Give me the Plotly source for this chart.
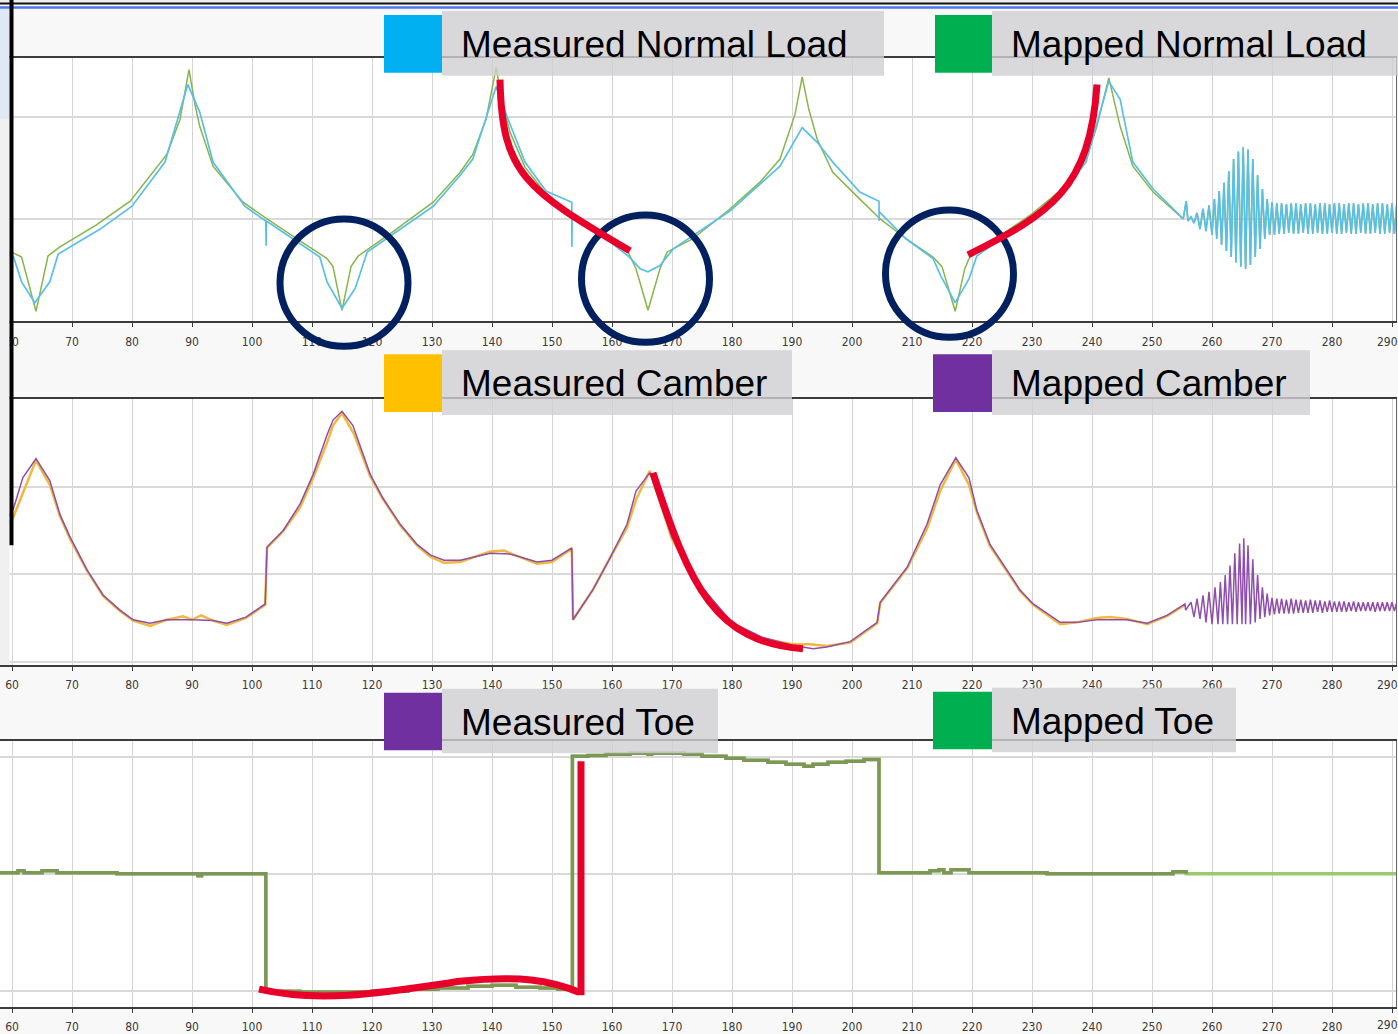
import plotly.graph_objects as go

# ---------------- data ----------------
tick_vals = [60, 70, 80, 90, 100, 110, 120, 130, 140, 150, 160, 170, 180, 190, 200,
             210, 220, 230, 240, 250, 260, 270, 280, 290]
tick_text = [str(v) for v in tick_vals]

# Normal load (kN)
nl_map_x = [58.0, 60.2, 61.6, 64.0, 66.0, 68.0, 74.0, 79.7, 85.8, 88.0,
            89.5, 90.5, 91.3, 93.5, 98.5, 102.5, 108.0, 112.5, 113.5, 115.0,
            116.5, 117.7, 123.5, 130.2, 134.7, 136.8, 139.0, 140.7, 141.8, 143.0,
            145.5, 149.0, 154.0, 159.0, 162.7, 164.0, 166.0, 168.0, 169.2, 173.5,
            179.7, 184.7, 188.0, 190.5, 191.7, 192.8, 194.2, 196.8, 201.3, 204.7,
            209.0, 213.5, 215.0, 217.2, 218.8, 219.7, 224.0, 230.0, 235.0, 239.0,
            240.8, 242.8, 244.7, 246.8, 250.2, 255.2]
nl_map_y = [3.35, 3.33, 3.25, 2.18, 3.27, 3.45, 3.88, 4.35, 5.27, 5.96,
            6.94, 6.25, 5.82, 5.04, 4.33, 4.00, 3.57, 3.22, 3.06, 2.20,
            3.06, 3.27, 3.75, 4.33, 4.92, 5.27, 5.96, 6.98, 6.25, 5.71,
            5.02, 4.49, 4.00, 3.61, 3.35, 3.02, 2.20, 3.02, 3.35, 3.61,
            4.20, 4.73, 5.18, 6.06, 6.80, 6.16, 5.57, 4.92, 4.39, 4.00,
            3.61, 3.25, 3.06, 2.18, 3.02, 3.27, 3.61, 4.10, 4.59, 5.18,
            5.82, 6.78, 5.82, 5.04, 4.53, 4.00]

nl_meas_x = [58.0, 60.2, 61.6, 63.8, 66.3, 67.7, 74.7, 80.0, 85.5, 89.3,
             91.3, 93.5, 98.8, 102.3, 102.35, 102.4, 111.3, 112.5, 115.0, 117.2,
             119.2, 130.2, 134.7, 136.8, 140.7, 142.5, 145.5, 149.0, 153.3, 153.32,
             153.35, 159.0, 162.7, 164.7, 166.0, 168.0, 170.2, 179.7, 184.7, 188.0,
             191.7, 194.2, 196.8, 201.3, 204.5, 204.52, 204.55, 209.0, 213.5, 214.8,
             217.2, 219.5, 220.8, 230.0, 235.0, 239.0, 242.8, 244.7, 246.8, 250.2,
             255.2]
nl_meas_y = [3.31, 3.27, 2.76, 2.35, 2.76, 3.31, 3.80, 4.25, 5.12, 6.65,
             6.10, 5.12, 4.25, 3.96, 3.47, 3.96, 3.25, 2.76, 2.24, 2.63,
             3.35, 4.25, 4.86, 5.18, 6.61, 6.02, 5.12, 4.55, 4.33, 3.45,
             4.10, 3.61, 3.27, 3.02, 2.96, 3.08, 3.41, 4.16, 4.69, 5.04,
             5.80, 5.51, 5.12, 4.53, 4.35, 3.96, 4.14, 3.61, 3.22, 2.88,
             2.35, 2.82, 3.27, 4.04, 4.53, 5.12, 6.71, 6.35, 5.12, 4.59,
             4.00]

nl_osc_x = [255.7, 256.0, 256.5, 257.0, 257.5, 258.0, 258.5, 259.0, 259.5, 260.0,
            260.4, 260.8, 261.2, 261.6, 262.0, 262.4, 262.8, 263.2, 263.6, 264.0,
            264.4, 264.8, 265.2, 265.6, 266.0, 266.4, 266.8, 267.2, 267.6, 268.0,
            268.4, 268.8, 269.2, 269.6]
nl_osc_y = [4.35, 3.96, 4.04, 3.92, 4.12, 3.80, 4.20, 3.76, 4.27, 3.69,
            4.39, 3.61, 4.55, 3.49, 4.71, 3.37, 4.94, 3.25, 5.18, 3.14,
            5.33, 3.06, 5.41, 3.02, 5.37, 3.10, 5.18, 3.25, 4.86, 3.41,
            4.59, 3.61, 4.39, 3.69]

band_x = [270.0, 270.4, 270.8, 271.2, 271.6, 272.0, 272.4, 272.8, 273.2, 273.6,
          274.0, 274.4, 274.8, 275.2, 275.6, 276.0, 276.4, 276.8, 277.2, 277.6,
          278.0, 278.4, 278.8, 279.2, 279.6, 280.0, 280.4, 280.8, 281.2, 281.6,
          282.0, 282.4, 282.8, 283.2, 283.6, 284.0, 284.4, 284.8, 285.2, 285.6,
          286.0, 286.4, 286.8, 287.2, 287.6, 288.0, 288.4, 288.8, 289.2, 289.6,
          290.0, 290.4, 290.8]
nl_band_y = [4.33, 3.69, 4.31, 3.71, 4.31, 3.71, 4.29, 3.73, 4.31, 3.71,
             4.31, 3.71, 4.29, 3.73, 4.31, 3.71, 4.31, 3.71, 4.29, 3.73,
             4.31, 3.71, 4.31, 3.71, 4.29, 3.73, 4.31, 3.71, 4.31, 3.71,
             4.29, 3.73, 4.31, 3.71, 4.31, 3.71, 4.29, 3.73, 4.31, 3.71,
             4.31, 3.71, 4.29, 3.73, 4.31, 3.71, 4.31, 3.71, 4.29, 3.73,
             4.31, 3.71, 4.31]

# Camber (deg)
cam_map_x = [58.0, 60.2, 61.8, 64.0, 66.3, 68.0, 69.7, 72.5, 75.2, 78.0,
             80.2, 83.0, 85.8, 90.0, 93.5, 95.8, 99.0, 102.2, 102.5, 105.2,
             108.0, 110.2, 112.5, 113.5, 115.0, 116.8, 119.7, 121.8, 124.7, 127.5,
             129.7, 132.0, 134.7, 139.7, 143.0, 147.5, 150.0, 153.3, 153.5, 156.8,
             159.7, 162.5, 164.0, 166.3, 170.0, 175.0, 180.0, 185.0, 190.0, 193.5,
             195.8, 199.7, 204.2, 204.7, 209.2, 212.5, 214.7, 217.3, 219.5, 220.8,
             223.0, 225.8, 228.0, 230.2, 232.5, 234.7, 237.5, 240.8, 245.8, 249.2,
             252.5, 255.5, 255.6]
cam_map_y = [-1.47, -1.26, -0.90, -0.68, -0.93, -1.32, -1.58, -1.95, -2.24, -2.41,
             -2.52, -2.56, -2.52, -2.52, -2.53, -2.56, -2.49, -2.34, -1.69, -1.50,
             -1.20, -0.86, -0.41, -0.24, -0.14, -0.30, -0.86, -1.13, -1.43, -1.66,
             -1.78, -1.84, -1.84, -1.76, -1.77, -1.86, -1.84, -1.70, -2.52, -2.18,
             -1.81, -1.43, -1.05, -0.84, -1.58, -2.15, -2.55, -2.72, -2.81, -2.85,
             -2.83, -2.77, -2.55, -2.32, -1.92, -1.43, -0.98, -0.67, -0.90, -1.27,
             -1.66, -1.95, -2.18, -2.34, -2.45, -2.55, -2.55, -2.52, -2.52, -2.56,
             -2.47, -2.34, -2.41]

cam_meas_x = [58.0, 60.2, 64.0, 66.3, 68.0, 69.7, 72.5, 75.2, 78.0, 80.2,
              83.0, 85.8, 88.5, 90.0, 91.5, 93.5, 95.8, 99.0, 102.2, 102.5,
              105.2, 108.0, 110.2, 112.5, 113.5, 115.0, 117.0, 119.7, 121.8, 124.7,
              127.5, 129.7, 132.0, 134.7, 139.7, 142.0, 143.0, 147.5, 150.0, 153.3,
              153.5, 156.8, 159.7, 162.5, 164.0, 166.3, 170.0, 175.0, 180.0, 185.0,
              190.0, 193.0, 195.8, 199.7, 204.2, 204.7, 209.2, 212.5, 214.7, 217.3,
              219.5, 220.8, 223.0, 225.8, 228.0, 230.2, 232.5, 234.7, 237.5, 240.8,
              243.0, 245.8, 249.2, 252.5, 255.5]
cam_meas_y = [-1.55, -1.35, -0.70, -0.98, -1.34, -1.60, -1.96, -2.25, -2.42, -2.53,
              -2.59, -2.52, -2.48, -2.52, -2.47, -2.53, -2.58, -2.50, -2.35, -1.70,
              -1.51, -1.24, -0.90, -0.50, -0.30, -0.16, -0.40, -0.88, -1.14, -1.44,
              -1.67, -1.80, -1.87, -1.86, -1.74, -1.73, -1.76, -1.88, -1.86, -1.71,
              -2.52, -2.18, -1.81, -1.47, -1.15, -0.82, -1.60, -2.17, -2.57, -2.73,
              -2.80, -2.80, -2.82, -2.78, -2.56, -2.33, -1.93, -1.48, -1.05, -0.69,
              -0.98, -1.29, -1.68, -1.96, -2.19, -2.35, -2.46, -2.57, -2.55, -2.50,
              -2.49, -2.51, -2.57, -2.48, -2.35]

cam_osc_x = [256.5, 257.0, 257.5, 258.0, 258.5, 259.0, 259.5, 260.0, 260.5, 261.0,
             261.4, 261.8, 262.2, 262.6, 263.0, 263.4, 263.8, 264.2, 264.6, 265.0,
             265.3, 265.6, 266.0, 266.4, 266.8, 267.2, 267.6, 268.0, 268.4, 268.8,
             269.2, 269.6]
cam_osc_y = [-2.32, -2.49, -2.28, -2.51, -2.24, -2.55, -2.20, -2.57, -2.15, -2.57,
             -2.09, -2.57, -2.01, -2.57, -1.90, -2.57, -1.76, -2.57, -1.65, -2.57,
             -1.59, -2.57, -1.67, -2.57, -1.83, -2.55, -2.01, -2.51, -2.15, -2.49,
             -2.22, -2.47]
cam_band_y = [-2.27, -2.46, -2.28, -2.45, -2.28, -2.45, -2.29, -2.45, -2.28, -2.45,
              -2.29, -2.44, -2.29, -2.44, -2.30, -2.44, -2.29, -2.44, -2.30, -2.43,
              -2.30, -2.44, -2.31, -2.43, -2.30, -2.43, -2.31, -2.43, -2.31, -2.43,
              -2.31, -2.43, -2.32, -2.42, -2.31, -2.43, -2.32, -2.42, -2.32, -2.42,
              -2.32, -2.42, -2.32, -2.43, -2.32, -2.42, -2.32, -2.42, -2.32, -2.42,
              -2.32, -2.42, -2.32]

# Toe (deg)
toe_x = [58.0, 61.0, 62.0, 65.0, 67.5, 77.5, 91.0, 91.6, 102.3, 108.0,
         120.0, 126.0, 131.0, 136.0, 140.0, 144.0, 148.0, 151.0, 153.4, 156.0,
         159.0, 163.0, 166.0, 166.6, 172.0, 175.0, 179.0, 182.0, 186.0, 189.0,
         192.0, 193.5, 196.0, 199.0, 202.0, 204.5, 213.0, 214.5, 215.3, 216.5,
         219.5, 232.5, 253.5, 255.7]
toe_y = [0.004, 0.013, 0.004, 0.013, 0.004, 0.0, -0.009, 0.0, -0.502, -0.506,
         -0.502, -0.494, -0.489, -0.481, -0.477, -0.485, -0.489, -0.494, 0.502, 0.506,
         0.511, 0.515, 0.511, 0.515, 0.511, 0.502, 0.494, 0.485, 0.477, 0.468,
         0.46, 0.468, 0.477, 0.481, 0.489, 0.004, 0.013, 0.017, 0.004, 0.017,
         0.004, 0.0, 0.009, 0.0]
toe_tail_x = [290.8]
toe_tail_y = [0.0]

# ---------------- helpers (pixel -> paper) ----------------
W, H = 1398, 1034


def fx(p):
    return p / W


def fy(p):
    return 1 - p / H


def px_path(spec):
    out = []
    toks = spec.replace(",", " ").split()
    nums = []
    for t in toks:
        if t.isalpha():
            out.append(t)
        else:
            nums.append(float(t))
            if len(nums) == 2:
                out.append(f"{fx(nums[0]):.5f},{fy(nums[1]):.5f}")
                nums = []
    return " ".join(out)


fig = go.Figure()

# Panel 1 - normal load
fig.add_trace(go.Scatter(x=nl_map_x + nl_osc_x + band_x, y=nl_map_y + nl_osc_y + nl_band_y,
                         mode="lines", line=dict(color="#88b548", width=1.5),
                         xaxis="x", yaxis="y", name="Mapped Normal Load"))
fig.add_trace(go.Scatter(x=nl_meas_x + nl_osc_x + band_x, y=nl_meas_y + nl_osc_y + nl_band_y,
                         mode="lines", line=dict(color="#58c0e8", width=1.7),
                         xaxis="x", yaxis="y", name="Measured Normal Load"))
# Panel 2 - camber
fig.add_trace(go.Scatter(x=cam_meas_x, y=cam_meas_y, mode="lines",
                         line=dict(color="#f3b73c", width=2.5),
                         xaxis="x2", yaxis="y2", name="Measured Camber"))
fig.add_trace(go.Scatter(x=cam_map_x + cam_osc_x + band_x, y=cam_map_y + cam_osc_y + cam_band_y,
                         mode="lines", line=dict(color="#8f4eab", width=1.5),
                         xaxis="x2", yaxis="y2", name="Mapped Camber"))
# Panel 3 - toe
fig.add_trace(go.Scatter(x=toe_x + toe_tail_x, y=toe_y + toe_tail_y, mode="lines",
                         line=dict(color="#9acb6c", width=3.5, shape="hv"),
                         xaxis="x3", yaxis="y3", name="Mapped Toe"))
fig.add_trace(go.Scatter(x=toe_x, y=toe_y, mode="lines",
                         line=dict(color="#7d9856", width=3.5, shape="hv"),
                         xaxis="x3", yaxis="y3", name="Measured Toe"))

xdom = [0, 1396 / W]
tickfont = dict(family="Liberation Sans Narrow, DejaVu Sans Condensed, Arial Narrow, sans-serif",
                size=12, color="#3a3a3a")
# the last label sits on the page edge; it is drawn as a right-aligned annotation
axis_text = tick_text[:-1] + [""]


def xax(anchor):
    return dict(domain=xdom, anchor=anchor, range=[58, 58 + 1396 / 6],
                tickmode="array", tickvals=tick_vals, ticktext=axis_text,
                showgrid=True, gridcolor="#d3d3d3", gridwidth=1,
                showline=True, linecolor="#3c3c3c", linewidth=1.5, mirror=True,
                ticks="outside", ticklen=4, tickwidth=1, tickcolor="#3c3c3c",
                tickfont=tickfont, ticklabelstandoff=4,
                zeroline=False, fixedrange=True)


def yax(anchor, dom, rng, tv):
    return dict(domain=dom, anchor=anchor, range=rng, tickmode="array", tickvals=tv,
                showticklabels=False, ticks="", showgrid=True, gridcolor="#d9d9d9",
                gridwidth=2, showline=True, linecolor="#666666", linewidth=1,
                mirror=True, zeroline=False, fixedrange=True)


layout = dict(
    width=W, height=H, margin=dict(l=0, r=0, t=0, b=0),
    paper_bgcolor="#f8f8f8", plot_bgcolor="#ffffff", showlegend=False,
    xaxis=xax("y"), xaxis2=xax("y2"), xaxis3=xax("y3"),
    yaxis=yax("x", [fy(323), fy(58)], [2 + (322 - 323) / 51, 2 + (322 - 58) / 51], [2, 4, 6]),
    yaxis2=yax("x2", [fy(668), fy(401)], [-(668 - 401) / 88, 0], [-3, -2, -1, 0]),
    yaxis3=yax("x3", [fy(1012), fy(745)], [(878 - 1012) / 235, (878 - 745) / 235], [-0.5, 0, 0.5]),
)
fig.update_layout(**layout)

shapes = []
annots = []

for label_y in (343.5, 688.0, 1030.0):
    annots.append(dict(xref="paper", yref="paper", x=1.0, y=fy(label_y),
                       xanchor="right", yanchor="middle", text=tick_text[-1],
                       showarrow=False, borderpad=0, borderwidth=0, font=tickfont))


def rect(x0, y0, x1, y1, color, opacity=1.0):
    shapes.append(dict(type="rect", xref="paper", yref="paper",
                       x0=fx(x0), x1=fx(x1), y0=fy(y1), y1=fy(y0),
                       fillcolor=color, line=dict(width=0), opacity=opacity, layer="above"))


# window chrome
rect(0, 0, 1398, 2.5, "#eeeeee")
rect(0, 2.5, 1398, 4.6, "#111111")
rect(0, 6.3, 1398, 8.8, "#4b78ee")
rect(0, 9, 9.5, 120, "#dfe9f5")
rect(0, 120, 9.5, 668, "#f0f0f0")
rect(9.5, 0, 13.5, 548, "#000000")

# legend boxes
legend_items = [
    # (square x0, x1, y0, y1, colour, box x1, text)
    (384, 442, 15, 73, "#00B0F0", 884, "Measured Normal Load"),
    (935, 992, 15, 73, "#00B050", 1398, "Mapped Normal Load"),
    (384, 442, 356, 414, "#FFC000", 792, "Measured Camber"),
    (933, 992, 356, 414, "#7030A0", 1310, "Mapped Camber"),
    (384, 442, 696, 754, "#7030A0", 718, "Measured Toe"),
    (933, 992, 695, 753, "#00B050", 1236, "Mapped Toe"),
]
for sx0, sx1, sy0, sy1, col, bx1, txt in legend_items:
    rect(sx1, sy0 - 4, bx1, sy1 + 3, "#cfd0d3", opacity=0.8)
    rect(sx0, sy0, sx1, sy1, col)
    baseline = sy1 - 15.5
    annots.append(dict(xref="paper", yref="paper", x=fx(sx1 + 18.5), y=fy(baseline - 12.8),
                       xanchor="left", yanchor="middle", text=txt, showarrow=False,
                       borderpad=0, borderwidth=0,
                       font=dict(family="Liberation Sans, Arial, sans-serif", size=37,
                                 color="#000000")))

# callout circles
for cx, cy in [(344, 284), (645.5, 280), (949.5, 275)]:
    r = 64
    shapes.append(dict(type="circle", xref="paper", yref="paper",
                       x0=fx(cx - r), x1=fx(cx + r), y0=fy(cy + r), y1=fy(cy - r),
                       line=dict(color="#002060", width=7), layer="above"))

# red highlight strokes
for spec in ["M 500 80 C 502 175 525 190 630 252",
             "M 968 256 C 1050 215 1090 190 1097 85",
             "M 653 475 C 690 590 715 645 803 652",
             "M 259 994 C 320 1008 380 998 460 986 C 520 980 550 985 579 997",
             "M 581 1000 L 581 765"]:
    shapes.append(dict(type="path", xref="paper", yref="paper", path=px_path(spec),
                       line=dict(color="#e8002b", width=7), layer="above"))

fig.update_layout(shapes=shapes, annotations=annots)
fig.write_html("out.html")
